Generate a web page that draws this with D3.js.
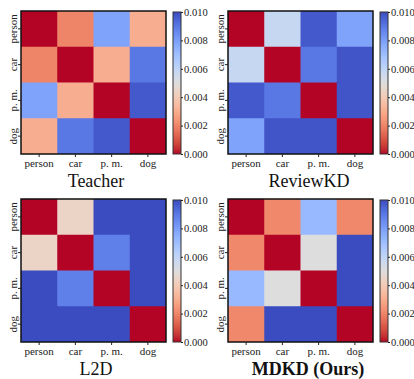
<!DOCTYPE html>
<html>
<head>
<meta charset="utf-8">
<script src="https://cdn.jsdelivr.net/npm/d3@7"></script>
<style>
  body { margin: 0; background: #fff; }
  svg { display: block; }
</style>
</head>
<body>
<svg id="chart" width="414" height="379"></svg>
<script>
// categories and per-method similarity matrices
const categories = ["person", "car", "p. m.", "dog"];
const titles = ["Teacher", "ReviewKD", "L2D", "MDKD (Ours)"];

const teacher = [
  [0.0000, 0.0020, 0.0079, 0.0030],
  [0.0020, 0.0000, 0.0030, 0.0090],
  [0.0079, 0.0030, 0.0000, 0.0097],
  [0.0030, 0.0090, 0.0097, 0.0000]
];
const reviewKD = [
  [0.0000, 0.0058, 0.0097, 0.0079],
  [0.0058, 0.0000, 0.0090, 0.0098],
  [0.0097, 0.0090, 0.0000, 0.0098],
  [0.0079, 0.0098, 0.0098, 0.0000]
];
const l2d = [
  [0.0000, 0.0044, 0.0100, 0.0100],
  [0.0044, 0.0000, 0.0088, 0.0100],
  [0.0100, 0.0088, 0.0000, 0.0100],
  [0.0100, 0.0100, 0.0100, 0.0000]
];
const mdkd = [
  [0.0000, 0.0021, 0.0072, 0.0021],
  [0.0021, 0.0000, 0.0050, 0.0100],
  [0.0072, 0.0050, 0.0000, 0.0100],
  [0.0021, 0.0100, 0.0100, 0.0000]
];
const matrices = [teacher, reviewKD, l2d, mdkd];
const cbarTicks = [0, 0.002, 0.004, 0.006, 0.008, 0.01];

// coolwarm control points (0 = blue end, 1 = red end)
const coolwarm = [
  [59,76,192],[68,90,204],[77,104,215],[87,117,225],[98,130,234],[108,142,241],
  [119,154,247],[130,165,251],[141,176,254],[152,185,255],[163,194,255],[174,201,253],
  [184,208,249],[194,213,244],[204,217,238],[213,219,230],[221,221,221],[229,216,209],
  [236,211,197],[241,204,185],[245,196,173],[247,187,160],[247,177,148],[247,166,135],
  [244,154,123],[241,141,111],[236,127,99],[229,112,88],[222,96,77],[213,80,66],
  [203,62,56],[192,40,47],[180,4,38]
];
// reversed: value 0 -> red, 0.01 -> blue
const vmax = 0.01;
const color = d3.scaleLinear()
  .domain(coolwarm.map((_, i) => vmax * (1 - i / (coolwarm.length - 1))))
  .range(coolwarm.map(c => d3.rgb(c[0], c[1], c[2])))
  .interpolate(d3.interpolateRgb)
  .clamp(true);

const SERIF = '"Liberation Serif", "Times New Roman", serif';
const svg = d3.select("#chart");

// panel layout
const panels = [
  { x: 21, y: 11, titleX: 96, titleY: 187, bold: false },
  { x: 228, y: 11, titleX: 309, titleY: 187, bold: false },
  { x: 21, y: 199, titleX: 96, titleY: 375, bold: false },
  { x: 228, y: 199, titleX: 308, titleY: 375, bold: true }
];
const W = 145, H = 143;

const styleText = (sel, size) => sel
  .style("font-family", SERIF)
  .style("font-size", size + "px")
  .style("fill", "#222");

panels.forEach((p, k) => {
  const data = matrices[k];
  const g = svg.append("g").attr("transform", `translate(${p.x},${p.y})`);

  const x = d3.scaleBand().domain(categories).range([0, W]);
  const y = d3.scaleBand().domain(categories).range([0, H]);
  const last = categories[categories.length - 1];

  const cells = [];
  data.forEach((row, i) => row.forEach((v, j) => cells.push({ r: categories[i], c: categories[j], v })));

  // overlap neighbours by 1px so no seams show between equal cells
  g.selectAll("rect.cell")
    .data(cells)
    .join("rect")
    .attr("class", "cell")
    .attr("x", d => x(d.c))
    .attr("y", d => y(d.r))
    .attr("width", d => x.bandwidth() + (d.c === last ? 0 : 1))
    .attr("height", d => y.bandwidth() + (d.r === last ? 0 : 1))
    .attr("fill", d => color(d.v));

  g.append("rect")
    .attr("width", W).attr("height", H)
    .attr("fill", "none").attr("stroke", "#111").attr("stroke-width", 1.5);

  // x axis
  const xa = g.append("g").attr("transform", `translate(0,${H})`)
    .call(d3.axisBottom(x).tickSize(3).tickPadding(2));
  xa.select(".domain").remove();
  xa.selectAll("line").attr("stroke", "#222");
  xa.selectAll("text").call(styleText, 11);

  // y axis (rotated labels)
  const ya = g.append("g").call(d3.axisLeft(y).tickSize(3));
  ya.select(".domain").remove();
  ya.selectAll("line").attr("stroke", "#222");
  ya.selectAll("text")
    .call(styleText, 11)
    .attr("x", null).attr("dy", null)
    .attr("text-anchor", "middle")
    .attr("transform", "translate(-4,0) rotate(-90)");

  // colorbar
  const cb = svg.append("g").attr("transform", `translate(${p.x + 152},${p.y + 1})`);
  const cbH = H - 1, cbW = 8;
  const cy = d3.scaleLinear().domain([0, vmax]).range([cbH, 0]);
  const gradId = "grad" + k;
  const grad = svg.append("defs").append("linearGradient")
    .attr("id", gradId).attr("x1", 0).attr("x2", 0).attr("y1", 1).attr("y2", 0);
  d3.range(0, 33).forEach(i => {
    const v = vmax * i / 32;
    grad.append("stop").attr("offset", i / 32).attr("stop-color", color(v));
  });
  cb.append("rect").attr("width", cbW).attr("height", cbH)
    .attr("fill", `url(#${gradId})`).attr("stroke", "#333").attr("stroke-width", 1);
  const ca = cb.append("g").attr("transform", `translate(${cbW},0)`)
    .call(d3.axisRight(cy).tickValues(cbarTicks).tickFormat(d3.format(".3f")).tickSize(2).tickPadding(1));
  ca.select(".domain").remove();
  ca.selectAll("line").attr("stroke", "#222");
  ca.selectAll("text").call(styleText, 10.5);

  // title
  svg.append("text")
    .attr("x", p.titleX).attr("y", p.titleY)
    .attr("text-anchor", "middle")
    .style("font-family", SERIF)
    .style("font-size", "18px")
    .style("font-weight", p.bold ? "bold" : "normal")
    .style("fill", "#111")
    .text(titles[k]);
});
</script>
</body>
</html>
